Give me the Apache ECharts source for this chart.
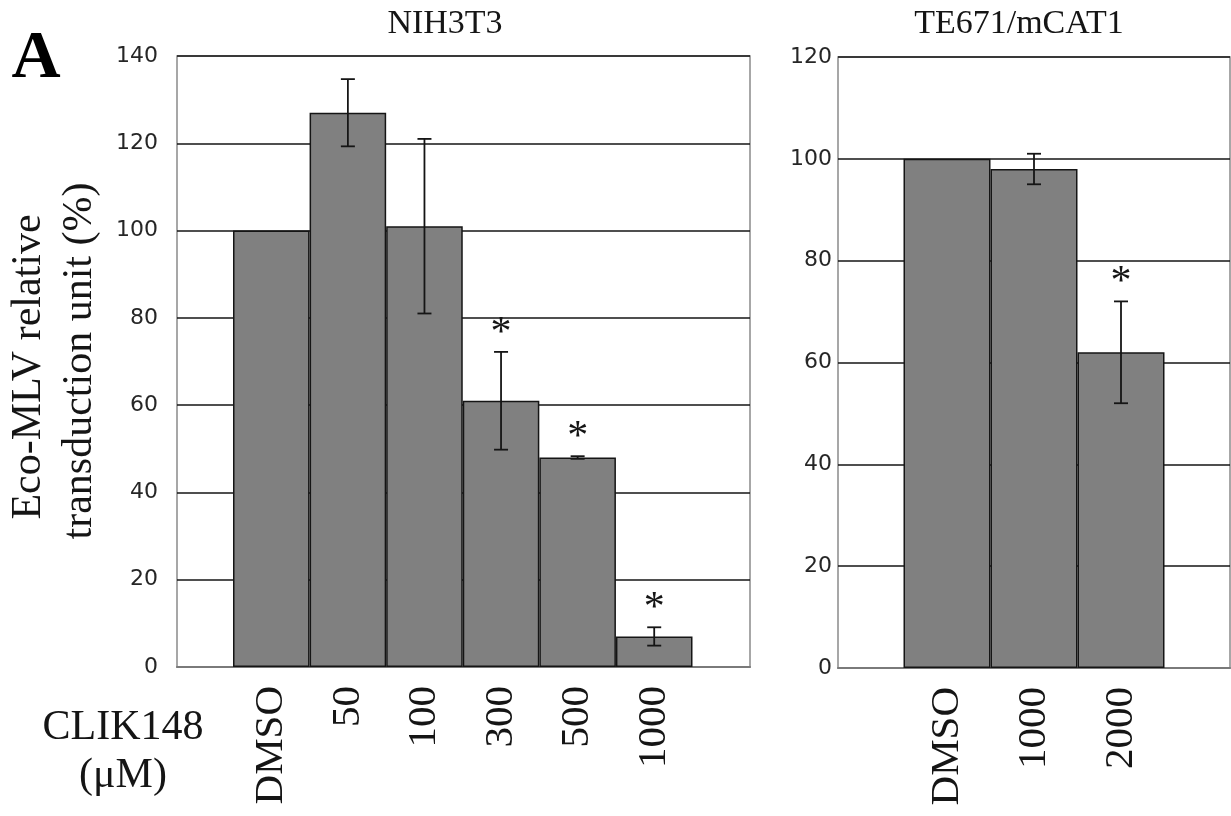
<!DOCTYPE html>
<html>
<head>
<meta charset="utf-8">
<script src="https://cdn.jsdelivr.net/npm/echarts@6/dist/echarts.min.js"></script>
<style>
  html, body { margin: 0; padding: 0; background: #fff; }
  #chart { width: 1231px; height: 816px; }
</style>
</head>
<body>
<div id="chart"></div>
<script>
// NIH3T3 panel
const nihCategories = ['DMSO', '50', '100', '300', '500', '1000'];
const nihMeans = [100, 127, 101, 61, 48, 7];
const nihErrors = [0, 7.7, 20, 11.2, 0.3, 2.1];
const nihSignificant = [false, false, false, true, true, true];
const nihTicks = { min: 0, max: 140, interval: 20 };

// TE671/mCAT1 panel
const teCategories = ['DMSO', '1000', '2000'];
const teMeans = [100, 98, 62];
const teErrors = [0, 3, 10];
const teSignificant = [false, false, true];
const teTicks = { min: 0, max: 120, interval: 20 };

const SERIF = '"Liberation Serif", "Times New Roman", serif';
const SANS = '"DejaVu Sans", sans-serif';
const INK = '#151515';

function errorData(means, errors, sig) {
  return means.map((m, i) => [i, m - errors[i], m + errors[i], errors[i], sig[i] ? 1 : 0]);
}

// Whiskers with caps, plus a significance star above the upper cap
function renderError(params, api) {
  const x = api.value(0);
  const lo = api.coord([x, api.value(1)]);
  const hi = api.coord([x, api.value(2)]);
  const children = [];
  const cap = 7;
  if (api.value(3) > 0) {
    const ls = { stroke: INK, lineWidth: 1.8 };
    children.push(
      { type: 'line', shape: { x1: hi[0], y1: hi[1], x2: lo[0], y2: lo[1] }, style: ls },
      { type: 'line', shape: { x1: hi[0] - cap, y1: hi[1], x2: hi[0] + cap, y2: hi[1] }, style: ls },
      { type: 'line', shape: { x1: lo[0] - cap, y1: lo[1], x2: lo[0] + cap, y2: lo[1] }, style: ls }
    );
  }
  if (api.value(4) === 1) {
    children.push({
      type: 'text',
      x: hi[0], y: hi[1] + 3,
      style: { text: '*', font: '42px ' + SERIF, fill: INK, textAlign: 'center', textVerticalAlign: 'bottom' }
    });
  }
  return { type: 'group', children };
}

function frameY(ticks, margin, gridIndex) {
  return {
    type: 'value', gridIndex, min: ticks.min, max: ticks.max, interval: ticks.interval,
    axisLine: { show: false }, axisTick: { show: false },
    axisLabel: { fontFamily: SANS, fontSize: 22, color: '#262626', margin },
    splitLine: { show: true, lineStyle: { color: INK, width: 1.5 } }
  };
}
function hiddenY(ticks, gridIndex) {
  return { type: 'value', gridIndex, min: ticks.min, max: ticks.max, show: false, splitLine: { show: false } };
}
function hiddenX(gridIndex) {
  return {
    type: 'value', gridIndex, min: 0, max: 1, show: true,
    axisLabel: { show: false }, axisTick: { show: false }, splitLine: { show: false },
    axisLine: { show: true, lineStyle: { color: '#7a7a7a', width: 2 } }
  };
}
function categoryX(cats, gridIndex) {
  return {
    type: 'category', gridIndex, data: cats,
    axisLine: { show: false }, axisTick: { show: false },
    axisLabel: { interval: 0, rotate: 90, fontFamily: SERIF, fontSize: 41, color: INK, margin: 19 }
  };
}
function barSeries(means, axisIndex) {
  return {
    type: 'bar', xAxisIndex: axisIndex, yAxisIndex: axisIndex, data: means,
    barCategoryGap: 0, z: 3,
    itemStyle: { color: '#808080', borderColor: INK, borderWidth: 1.5 }
  };
}
function errorSeries(means, errors, sig, axisIndex) {
  return {
    type: 'custom', xAxisIndex: axisIndex, yAxisIndex: axisIndex, z: 4,
    data: errorData(means, errors, sig), renderItem: renderError
  };
}

const frameStyle = { show: true, borderColor: '#8a8a8a', borderWidth: 1.5, backgroundColor: 'transparent' };

const option = {
  animation: false,
  grid: [
    Object.assign({ left: 177, top: 56, width: 573, height: 611 }, frameStyle),
    { left: 233, top: 56, width: 459.5, height: 611 },
    Object.assign({ left: 838, top: 57, width: 392, height: 611 }, frameStyle),
    { left: 903.5, top: 57, width: 261, height: 611 }
  ],
  xAxis: [hiddenX(0), categoryX(nihCategories, 1), hiddenX(2), categoryX(teCategories, 3)],
  yAxis: [frameY(nihTicks, 19, 0), hiddenY(nihTicks, 1), frameY(teTicks, 6, 2), hiddenY(teTicks, 3)],
  series: [
    barSeries(nihMeans, 1),
    errorSeries(nihMeans, nihErrors, nihSignificant, 1),
    barSeries(teMeans, 3),
    errorSeries(teMeans, teErrors, teSignificant, 3)
  ],
  graphic: [
    { type: 'text', x: 36, y: 59, style: { text: 'A', font: 'bold 68px ' + SERIF, fill: '#000', textAlign: 'center', textVerticalAlign: 'middle' } },
    { type: 'text', x: 445, y: 24, style: { text: 'NIH3T3', font: '34px ' + SERIF, fill: INK, textAlign: 'center', textVerticalAlign: 'middle' } },
    { type: 'text', x: 1019, y: 24, style: { text: 'TE671/mCAT1', font: '34px ' + SERIF, fill: INK, textAlign: 'center', textVerticalAlign: 'middle' } },
    { type: 'text', x: 29, y: 367, rotation: Math.PI / 2, style: { text: 'Eco-MLV relative', font: '42px ' + SERIF, fill: INK, textAlign: 'center', textVerticalAlign: 'middle' } },
    { type: 'text', x: 80, y: 361, rotation: Math.PI / 2, style: { text: 'transduction unit (%)', font: '42px ' + SERIF, fill: INK, textAlign: 'center', textVerticalAlign: 'middle' } },
    { type: 'text', x: 123, y: 728, style: { text: 'CLIK148', font: '42px ' + SERIF, fill: INK, textAlign: 'center', textVerticalAlign: 'middle' } },
    { type: 'text', x: 123, y: 776, style: { text: '(\u03bcM)', font: '42px ' + SERIF, fill: INK, textAlign: 'center', textVerticalAlign: 'middle' } }
  ]
};

const chart = echarts.init(document.getElementById('chart'), null, { renderer: 'canvas' });
chart.setOption(option);
</script>
</body>
</html>
